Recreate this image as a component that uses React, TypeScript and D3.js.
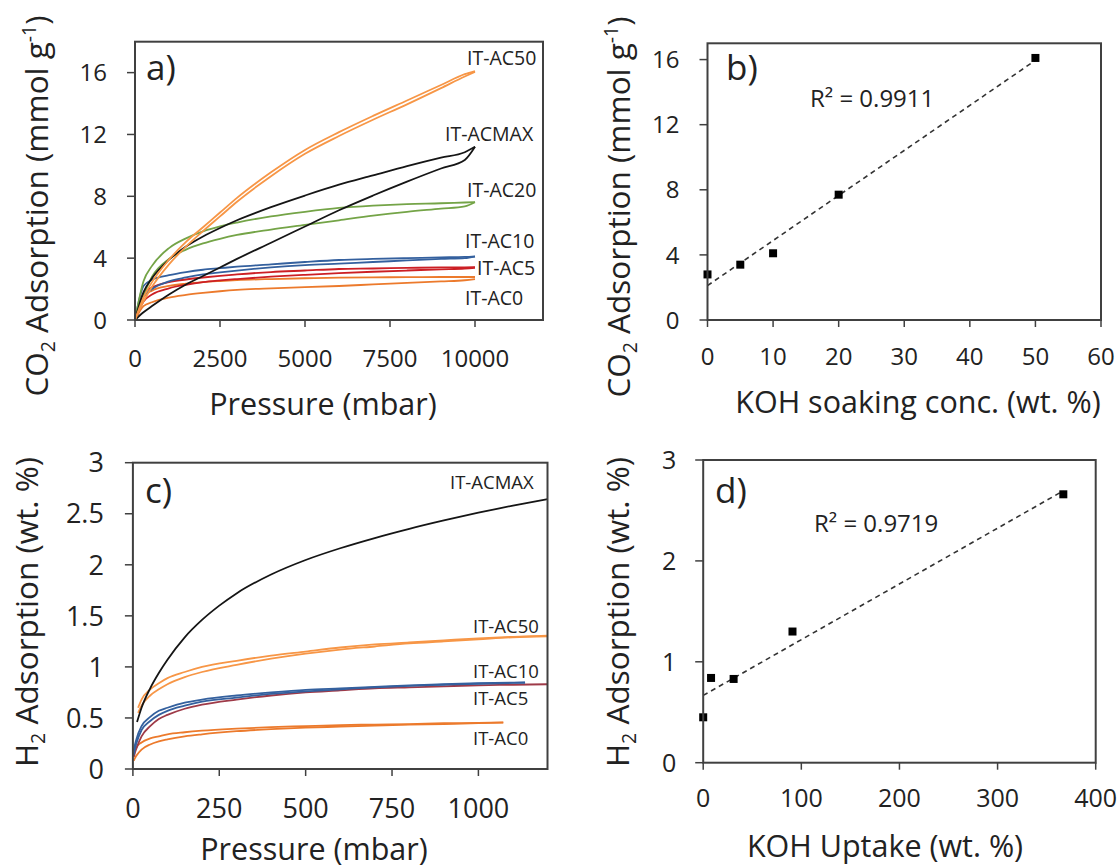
import React from 'react';
import * as d3 from 'd3';

const FONT = "'Open Sans', sans-serif";
const TXT = '#222';
const AX = '#404040';

// ---------- Panel a: CO2 isotherms ----------
const co2Pressure = [0, 250, 500, 1000, 1500, 2000, 2500, 3000, 4000, 5000, 6000, 7000, 8000, 9000, 9700, 10000];
const co2AC50Ads = [0, 1.2, 2.15, 3.6, 4.75, 5.75, 6.7, 7.65, 9.3, 10.75, 11.9, 12.95, 13.95, 15.0, 15.75, 16.05];
const co2AC50Des = [0, 1.45, 2.45, 3.9, 5.05, 6.0, 6.95, 7.9, 9.55, 11.0, 12.15, 13.2, 14.2, 15.2, 15.9, 16.1];
const co2ACMAXAds = [0, 0.5, 0.9, 1.65, 2.3, 2.85, 3.4, 3.95, 5.0, 6.05, 7.1, 8.05, 8.95, 9.8, 10.35, 11.2];
const co2ACMAXDes = [0, 1.8, 2.7, 3.9, 4.75, 5.4, 5.95, 6.45, 7.3, 8.05, 8.75, 9.35, 9.95, 10.5, 10.85, 11.2];
const co2AC20Ads = [0, 1.6, 2.8, 3.95, 4.55, 4.95, 5.25, 5.5, 5.85, 6.15, 6.45, 6.75, 7.0, 7.2, 7.35, 7.62];
const co2AC20Des = [0, 2.5, 3.5, 4.65, 5.28, 5.73, 6.05, 6.3, 6.7, 7.0, 7.25, 7.4, 7.5, 7.55, 7.6, 7.62];
const co2AC10Ads = [0, 1.5, 2.0, 2.5, 2.75, 2.95, 3.08, 3.2, 3.4, 3.55, 3.65, 3.75, 3.85, 3.95, 4.0, 4.1];
const co2AC10Des = [0, 2.2, 2.6, 2.9, 3.1, 3.25, 3.35, 3.45, 3.6, 3.75, 3.88, 3.95, 4.0, 4.05, 4.08, 4.12];
const co2AC5Ads = [0, 1.2, 1.65, 2.05, 2.28, 2.45, 2.56, 2.65, 2.8, 2.92, 3.03, 3.12, 3.2, 3.28, 3.33, 3.38];
const co2AC5Des = [0, 1.7, 2.1, 2.45, 2.62, 2.75, 2.86, 2.95, 3.1, 3.2, 3.3, 3.33, 3.37, 3.4, 3.41, 3.42];
const co2AC0Ads = [0, 0.9, 1.15, 1.45, 1.62, 1.75, 1.86, 1.95, 2.05, 2.12, 2.2, 2.3, 2.4, 2.5, 2.57, 2.65];
const co2AC0Des = [0, 1.5, 1.9, 2.2, 2.35, 2.45, 2.52, 2.58, 2.65, 2.7, 2.74, 2.76, 2.77, 2.78, 2.78, 2.78];
const aXTicks = [0, 2500, 5000, 7500, 10000];
const aYTicks = [0, 4, 8, 12, 16];

// ---------- Panel b: CO2 vs KOH soaking conc ----------
const bConc = [0, 5, 10, 20, 50];
const bCO2 = [2.8, 3.4, 4.1, 7.7, 16.1];
const bXTicks = [0, 10, 20, 30, 40, 50, 60];
const bYTicks = [0, 4, 8, 12, 16];

// ---------- Panel c: H2 isotherms ----------
const h2ACMAXP = [12, 25, 50, 75, 100, 150, 200, 250, 300, 400, 500, 600, 700, 800, 900, 1000, 1100, 1200];
const h2ACMAX = [0.46, 0.6, 0.79, 0.94, 1.07, 1.29, 1.46, 1.6, 1.72, 1.905, 2.047, 2.162, 2.262, 2.352, 2.434, 2.51, 2.58, 2.644];
const h2AC50P = [15, 25, 50, 75, 100, 150, 200, 300, 400, 500, 600, 700, 800, 900, 1000, 1100, 1200];
const h2AC50Ads = [0.55, 0.62, 0.72, 0.78, 0.83, 0.9, 0.95, 1.02, 1.08, 1.13, 1.17, 1.2, 1.23, 1.25, 1.27, 1.29, 1.3];
const h2AC50Des = [0.6, 0.68, 0.78, 0.84, 0.89, 0.95, 1.0, 1.06, 1.11, 1.15, 1.19, 1.22, 1.24, 1.26, 1.28, 1.295, 1.305];
const h2AC10P = [3, 5, 10, 25, 50, 75, 100, 150, 200, 300, 400, 500, 600, 700, 800, 900, 1000, 1135];
const h2AC10Ads = [0.14, 0.18, 0.25, 0.38, 0.47, 0.53, 0.57, 0.62, 0.66, 0.7, 0.735, 0.76, 0.78, 0.8, 0.815, 0.825, 0.835, 0.845];
const h2AC10Des = [0.18, 0.22, 0.29, 0.42, 0.51, 0.57, 0.6, 0.65, 0.68, 0.72, 0.75, 0.775, 0.79, 0.805, 0.82, 0.83, 0.84, 0.848];
const h2AC5P = [3, 5, 10, 25, 50, 75, 100, 150, 200, 300, 400, 500, 600, 700, 800, 900, 1000, 1100, 1200];
const h2AC5 = [0.12, 0.15, 0.2, 0.32, 0.42, 0.49, 0.53, 0.59, 0.63, 0.68, 0.72, 0.75, 0.77, 0.79, 0.8, 0.81, 0.82, 0.825, 0.83];
const h2AC0P = [3, 5, 10, 25, 50, 75, 100, 150, 200, 300, 400, 500, 600, 700, 800, 900, 1000, 1072];
const h2AC0Ads = [0.08, 0.1, 0.13, 0.19, 0.24, 0.27, 0.29, 0.32, 0.34, 0.37, 0.39, 0.405, 0.415, 0.425, 0.435, 0.44, 0.45, 0.455];
const h2AC0Des = [0.13, 0.17, 0.21, 0.26, 0.3, 0.32, 0.34, 0.36, 0.375, 0.395, 0.41, 0.42, 0.43, 0.435, 0.44, 0.448, 0.452, 0.457];
const cXTicks = [0, 250, 500, 750, 1000];
const cYTicks = [0, 0.5, 1, 1.5, 2, 2.5, 3];

// ---------- Panel d: H2 vs KOH uptake ----------
const dUptake = [0, 8, 31, 91, 367];
const dH2 = [0.45, 0.84, 0.83, 1.3, 2.66];
const dXTicks = [0, 100, 200, 300, 400];
const dYTicks = [0, 1, 2, 3];

const C_AC50 = '#F79646';
const C_AC0 = '#EC7A2C';
const C_AC10 = '#34609E';
const C_AC5 = '#CC1F24';
const C_AC5c = '#9E3A48';
const C_AC20 = '#74A447';
const C_MAX = '#151515';

type Box = { l: number; r: number; t: number; b: number };

function zip(xs: number[], ys: number[]): [number, number][] {
  return xs.map((x, i) => [x, ys[i]] as [number, number]);
}

function linFit(xs: number[], ys: number[]) {
  const mx = d3.mean(xs) as number;
  const my = d3.mean(ys) as number;
  let sxy = 0, sxx = 0;
  xs.forEach((x, i) => { sxy += (x - mx) * (ys[i] - my); sxx += (x - mx) * (x - mx); });
  const m = sxy / sxx;
  return { m, c: my - m * mx };
}

function Frame(props: {
  box: Box; x: d3.ScaleLinear<number, number>; y: d3.ScaleLinear<number, number>;
  xTicks: number[]; yTicks: number[]; tickSize: number; xBase: number; yGap: number;
}) {
  const { box, x, y, xTicks, yTicks, tickSize, xBase, yGap } = props;
  return (
    <g>
      <rect x={box.l} y={box.t} width={box.r - box.l} height={box.b - box.t} fill="none" stroke={AX} strokeWidth={2} />
      {xTicks.map((t) => (
        <g key={'x' + t}>
          <line x1={x(t)} x2={x(t)} y1={box.b} y2={box.b + 7} stroke={AX} strokeWidth={1.5} />
          <text x={x(t)} y={xBase} textAnchor="middle" fontSize={tickSize} fill={TXT} fontFamily={FONT}>{String(t)}</text>
        </g>
      ))}
      {yTicks.map((t) => (
        <g key={'y' + t}>
          <line x1={box.l - 8} x2={box.l} y1={y(t)} y2={y(t)} stroke={AX} strokeWidth={1.5} />
          <text x={box.l - yGap} y={y(t)} dy="0.36em" textAnchor="end" fontSize={tickSize} fill={TXT} fontFamily={FONT}>{String(t)}</text>
        </g>
      ))}
    </g>
  );
}

function YTitle(props: { x: number; y: number; size: number; kind: 'co2' | 'h2' }) {
  const { x, y, size, kind } = props;
  const sub = size * 0.62;
  return (
    <text transform={`translate(${x},${y}) rotate(-90)`} textAnchor="middle" fontSize={size} fill={TXT} fontFamily={FONT}>
      {kind === 'co2' ? (
        <>
          <tspan>CO</tspan>
          <tspan fontSize={sub} dy={size * 0.22}>2</tspan>
          <tspan dy={-size * 0.22}> Adsorption (mmol g</tspan>
          <tspan fontSize={sub} dy={-size * 0.38}>-1</tspan>
          <tspan dy={size * 0.38}>)</tspan>
        </>
      ) : (
        <>
          <tspan>H</tspan>
          <tspan fontSize={sub} dy={size * 0.22}>2</tspan>
          <tspan dy={-size * 0.22}> Adsorption (wt. %)</tspan>
        </>
      )}
    </text>
  );
}

export default function App() {
  // Panel a
  const boxA: Box = { l: 135, r: 543, t: 41.7, b: 320 };
  const xA = d3.scaleLinear().domain([0, 12000]).range([boxA.l, boxA.r]);
  const yA = d3.scaleLinear().domain([0, 18]).range([boxA.b, boxA.t]);
  const lineA = d3.line<[number, number]>().x((d) => xA(d[0])).y((d) => yA(d[1])).curve(d3.curveMonotoneX);
  const seriesA: { data: number[]; color: string }[] = [
    { data: co2AC0Ads, color: C_AC0 }, { data: co2AC0Des, color: C_AC0 },
    { data: co2AC5Ads, color: C_AC5 }, { data: co2AC5Des, color: C_AC5 },
    { data: co2AC10Ads, color: C_AC10 }, { data: co2AC10Des, color: C_AC10 },
    { data: co2AC20Ads, color: C_AC20 }, { data: co2AC20Des, color: C_AC20 },
    { data: co2ACMAXAds, color: C_MAX }, { data: co2ACMAXDes, color: C_MAX },
    { data: co2AC50Ads, color: C_AC50 }, { data: co2AC50Des, color: C_AC50 },
  ];
  const labelsA = [
    { t: 'IT-AC50', x: 467, y: 65 },
    { t: 'IT-ACMAX', x: 445, y: 141 },
    { t: 'IT-AC20', x: 467, y: 197 },
    { t: 'IT-AC10', x: 465, y: 248 },
    { t: 'IT-AC5', x: 477, y: 275 },
    { t: 'IT-AC0', x: 465, y: 305 },
  ];

  // Panel b
  const boxB: Box = { l: 707.5, r: 1101, t: 43.3, b: 320 };
  const xB = d3.scaleLinear().domain([0, 60]).range([boxB.l, boxB.r]);
  const yB = d3.scaleLinear().domain([0, 17]).range([boxB.b, boxB.t]);
  const fitB = linFit(bConc, bCO2);

  // Panel c
  const boxC: Box = { l: 132.9, r: 547.5, t: 462.7, b: 769 };
  const xC = d3.scaleLinear().domain([0, 1200]).range([boxC.l, boxC.r]);
  const yC = d3.scaleLinear().domain([0, 3]).range([boxC.b, boxC.t]);
  const lineC = d3.line<[number, number]>().x((d) => xC(d[0])).y((d) => yC(d[1])).curve(d3.curveMonotoneX);
  const seriesC: { p: number[]; v: number[]; color: string }[] = [
    { p: h2AC0P, v: h2AC0Ads, color: C_AC0 }, { p: h2AC0P, v: h2AC0Des, color: C_AC0 },
    { p: h2AC5P, v: h2AC5, color: C_AC5c },
    { p: h2AC10P, v: h2AC10Ads, color: C_AC10 }, { p: h2AC10P, v: h2AC10Des, color: C_AC10 },
    { p: h2AC50P, v: h2AC50Ads, color: C_AC50 }, { p: h2AC50P, v: h2AC50Des, color: C_AC50 },
    { p: h2ACMAXP, v: h2ACMAX, color: C_MAX },
  ];
  const labelsC = [
    { t: 'IT-ACMAX', x: 450, y: 489 },
    { t: 'IT-AC50', x: 473, y: 633 },
    { t: 'IT-AC10', x: 473, y: 678 },
    { t: 'IT-AC5', x: 473, y: 705 },
    { t: 'IT-AC0', x: 473, y: 745 },
  ];

  // Panel d
  const boxD: Box = { l: 703.2, r: 1095.7, t: 460, b: 762.7 };
  const xD = d3.scaleLinear().domain([0, 400]).range([boxD.l, boxD.r]);
  const yD = d3.scaleLinear().domain([0, 3]).range([boxD.b, boxD.t]);
  const fitD = linFit(dUptake, dH2);

  const xTitleSize = 30.5;
  const yTitleSize = 31.5;

  return (
    <svg width={1118} height={868} style={{ position: 'absolute', left: 0, top: 0, background: '#fff' }}>
      <rect x={0} y={0} width={1118} height={868} fill="#fff" />

      {/* Panel a */}
      <g>
        {seriesA.map((s, i) => (
          <path key={i} d={lineA(zip(co2Pressure, s.data)) || ''} fill="none" stroke={s.color} strokeWidth={1.8} />
        ))}
        <Frame box={boxA} x={xA} y={yA} xTicks={aXTicks} yTicks={aYTicks} tickSize={24} xBase={367} yGap={28} />
        {labelsA.map((l) => (
          <text key={l.t} x={l.x} y={l.y} fontSize={19.5} fill={TXT} fontFamily={FONT}>{l.t}</text>
        ))}
        <text x={146} y={80} fontSize={35} fill={TXT} fontFamily={FONT}>a)</text>
        <text x={323} y={415} textAnchor="middle" fontSize={xTitleSize} fill={TXT} fontFamily={FONT}>Pressure (mbar)</text>
        <YTitle x={48} y={206} size={yTitleSize} kind="co2" />
      </g>

      {/* Panel b */}
      <g>
        <line x1={xB(0)} y1={yB(fitB.c)} x2={xB(50)} y2={yB(fitB.m * 50 + fitB.c)} stroke="#333" strokeWidth={1.6} strokeDasharray="5,4" />
        {bConc.map((c, i) => (
          <rect key={i} x={xB(c) - 4} y={yB(bCO2[i]) - 4} width={8} height={8} fill="#000" />
        ))}
        <Frame box={boxB} x={xB} y={yB} xTicks={bXTicks} yTicks={bYTicks} tickSize={24} xBase={365} yGap={28} />
        <text x={726} y={80} fontSize={35} fill={TXT} fontFamily={FONT}>b)</text>
        <text x={810} y={107} fontSize={24} fill={TXT} fontFamily={FONT}>R² = 0.9911</text>
        <text x={918} y={413} textAnchor="middle" fontSize={xTitleSize} fill={TXT} fontFamily={FONT}>KOH soaking conc. (wt. %)</text>
        <YTitle x={630} y={207} size={yTitleSize} kind="co2" />
      </g>

      {/* Panel c */}
      <g>
        {seriesC.map((s, i) => (
          <path key={i} d={lineC(zip(s.p, s.v)) || ''} fill="none" stroke={s.color} strokeWidth={1.8} />
        ))}
        <Frame box={boxC} x={xC} y={yC} xTicks={cXTicks} yTicks={cYTicks} tickSize={27} xBase={818} yGap={29} />
        {labelsC.map((l) => (
          <text key={l.t} x={l.x} y={l.y} fontSize={18.5} fill={TXT} fontFamily={FONT}>{l.t}</text>
        ))}
        <text x={145} y={503} fontSize={35} fill={TXT} fontFamily={FONT}>c)</text>
        <text x={314} y={860} textAnchor="middle" fontSize={xTitleSize} fill={TXT} fontFamily={FONT}>Pressure (mbar)</text>
        <YTitle x={38} y={612} size={yTitleSize} kind="h2" />
      </g>

      {/* Panel d */}
      <g>
        <line x1={xD(0)} y1={yD(fitD.c)} x2={xD(367)} y2={yD(fitD.m * 367 + fitD.c)} stroke="#333" strokeWidth={1.6} strokeDasharray="5,4" />
        {dUptake.map((u, i) => (
          <rect key={i} x={xD(u) - 4} y={yD(dH2[i]) - 4} width={8} height={8} fill="#000" />
        ))}
        <Frame box={boxD} x={xD} y={yD} xTicks={dXTicks} yTicks={dYTicks} tickSize={25} xBase={807} yGap={27} />
        <text x={715} y={503} fontSize={35} fill={TXT} fontFamily={FONT}>d)</text>
        <text x={814} y={532} fontSize={24} fill={TXT} fontFamily={FONT}>R² = 0.9719</text>
        <text x={885} y={857} textAnchor="middle" fontSize={xTitleSize} fill={TXT} fontFamily={FONT}>KOH Uptake (wt. %)</text>
        <YTitle x={629} y={612} size={yTitleSize} kind="h2" />
      </g>
    </svg>
  );
}
